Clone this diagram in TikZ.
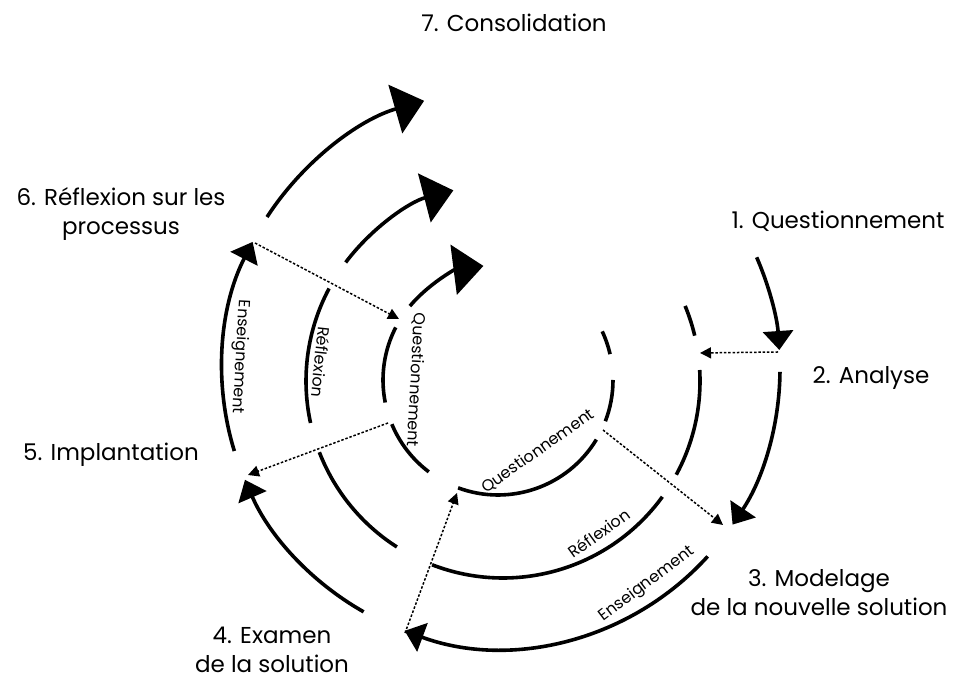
\documentclass[tikz,border=0pt]{standalone}
\usepackage{fontspec}
\setmainfont{Poppins}
\usetikzlibrary{arrows.meta,calc}
\begin{document}
\begin{tikzpicture}[x=1pt,y=1pt,
  arcline/.style={line width=3.6pt},
  tipS/.style={-{Triangle[width=30pt,length=19pt]}},
  tipL/.style={-{Triangle[width=50pt,length=30pt]}},
  dotarrow/.style={line width=1.5pt, dash pattern=on 2.5pt off 1.8pt, -{Triangle[width=11pt,length=11pt]}},
  stage/.style={font=\fontsize{23}{29}\selectfont, align=center, inner sep=0pt},
  arclabel/.style={font=\fontsize{16}{18}\selectfont, inner sep=0pt}]
\useasboundingbox (0,0) rectangle (964,679);
\coordinate (O) at (501,310);
\coordinate (M) at (503,298);
\coordinate (I) at (498,299);
% outer circle
\draw[arcline,tipS] ($(O)+(23.6:279)$) arc[start angle=23.6,end angle=3.9,radius=279];
\draw[arcline,tipS] ($(O)+(-0.6:279)$) arc[start angle=-0.6,end angle=-33.9,radius=279];
\draw[arcline,tipS] ($(O)+(-42.2:279)$) arc[start angle=-42.2,end angle=-110.2,radius=279];
\draw[arcline,tipS] ($(O)+(240.5:279)$) arc[start angle=240.5,end angle=203.4,radius=279];
\draw[arcline,tipS] ($(O)+(197.1:279)$) arc[start angle=197.1,end angle=152.9,radius=279];
\draw[arcline,tipL] ($(O)+(147:279)$) arc[start angle=147,end angle=106,radius=279];
% middle circle
\draw[arcline] ($(M)+(22.4:197)$) arc[start angle=22.4,end angle=13.3,radius=197];
\draw[arcline] ($(M)+(3.2:197)$) arc[start angle=3.2,end angle=-28.4,radius=197];
\draw[arcline] ($(M)+(-36:197)$) arc[start angle=-36,end angle=-111.1,radius=197];
\draw[arcline] ($(M)+(237.4:197)$) arc[start angle=237.4,end angle=201.2,radius=197];
\draw[arcline] ($(M)+(192.3:197)$) arc[start angle=192.3,end angle=152,radius=197];
\draw[arcline,tipL] ($(M)+(143:197)$) arc[start angle=143,end angle=104.6,radius=197];
% inner circle
\draw[arcline] ($(I)+(25:115)$) arc[start angle=25,end angle=13,radius=115];
\draw[arcline] ($(I)+(0:115)$) arc[start angle=0,end angle=-21,radius=115];
\draw[arcline] ($(I)+(-31.2:115)$) arc[start angle=-31.2,end angle=-110.3,radius=115];
\draw[arcline] ($(I)+(233:115)$) arc[start angle=233,end angle=202.6,radius=115];
\draw[arcline] ($(I)+(191.3:115)$) arc[start angle=191.3,end angle=152.8,radius=115];
\draw[arcline,tipL] ($(I)+(140:115)$) arc[start angle=140,end angle=97.3,radius=115];
% dotted connectors
\coordinate (d1a) at (778,327); \coordinate (d1b) at (700,326);
\coordinate (d2a) at (603,249); \coordinate (d2b) at (723,154);
\coordinate (d3a) at (405,46);  \coordinate (d3b) at (457,186);
\coordinate (d4a) at (388,256); \coordinate (d4b) at (248,204);
\coordinate (d5a) at (255,436); \coordinate (d5b) at (399,360);
\draw[dotarrow] (d1a) -- (d1b);
\draw[dotarrow] (d2a) -- (d2b);
\draw[dotarrow] (d3a) -- (d3b);
\draw[dotarrow] (d4a) -- (d4b);
\draw[dotarrow] (d5a) -- (d5b);
% stage labels
\node[stage] (s7) at (514,656) {7. Consolidation};
\node[stage] (s1) at (838,458) {1. Questionnement};
\node[stage] (s2) at (871,301) {2. Analyse};
\node[stage] (s6) at (121,465) {6. Réflexion sur les\\processus};
\node[stage] (s5) at (111,224) {5. Implantation};
\node[stage] (s3) at (819,86) {3. Modelage\\de la nouvelle solution};
\node[stage] (s4) at (272,29) {4. Examen\\de la solution};
% arc labels
\node[arclabel,rotate=-93] (l1) at (240,322) {Enseignement};
\node[arclabel,rotate=-96] (l2) at (321,317) {Réflexion};
\node[arclabel,rotate=-93] (l3) at (416,299) {Questionnement};
\node[arclabel,rotate=35] (l4) at (538,228) {Questionnement};
\node[arclabel,rotate=36] (l5) at (599,146) {Réflexion};
\node[arclabel,rotate=37] (l6) at (647,95) {Enseignement};
\end{tikzpicture}
\end{document}
